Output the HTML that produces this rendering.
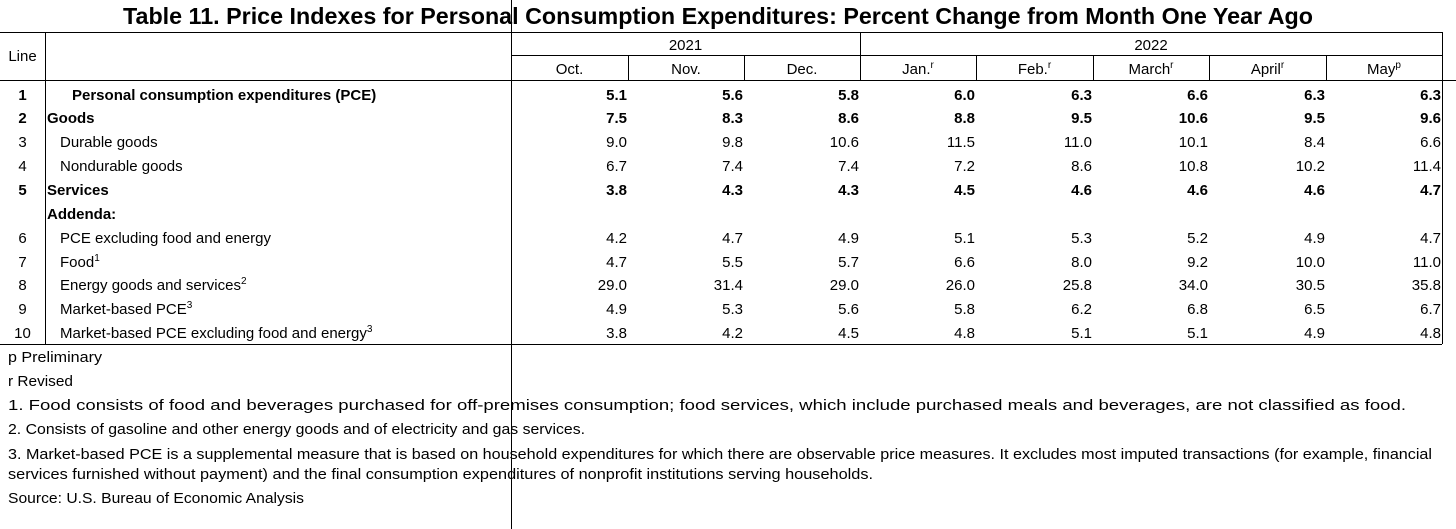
<!DOCTYPE html>
<html><head><meta charset="utf-8">
<style>
html,body{margin:0;padding:0;background:#fff;}
body{width:1456px;height:529px;position:relative;overflow:hidden;font-family:"Liberation Sans",Arial,sans-serif;color:#000;}
.t{position:absolute;white-space:nowrap;font-size:15px;line-height:16px;transform-origin:0 50%;}
.r{position:absolute;white-space:nowrap;font-size:15px;line-height:16px;text-align:right;}
.c{position:absolute;white-space:nowrap;font-size:15px;line-height:16px;text-align:center;}
.b{font-weight:bold;}
.hl{position:absolute;height:1px;background:#000;}
.vl{position:absolute;width:1px;background:#000;}
sup{font-size:10px;vertical-align:6px;line-height:0;}
</style></head>
<body>
<div id="title" class="t b" style="left:123px;top:5px;font-size:23px;line-height:23px;" data-fit="1190">Table 11. Price Indexes for Personal Consumption Expenditures: Percent Change from Month One Year Ago</div>
<div id="root"></div>
<script>
const months=['Oct.','Nov.','Dec.','Jan.','Feb.','March','April','May'];
const marks=['','','','r','r','r','r','p'];
const colEdges=[511,628,744,860,976,1093,1209,1326,1442];
const labels=['Personal consumption expenditures (PCE)','Goods','Durable goods','Nondurable goods','Services','Addenda:','PCE excluding food and energy','Food','Energy goods and services','Market-based PCE','Market-based PCE excluding food and energy'];
const lineNums=['1','2','3','4','5','','6','7','8','9','10'];
const sups=['','','','','','','','1','2','3','3'];
const bolds=[1,1,0,0,1,1,0,0,0,0,0];
const indents=[72,47,60,60,47,47,60,60,60,60,60];
const values=[
['5.1','5.6','5.8','6.0','6.3','6.6','6.3','6.3'],
['7.5','8.3','8.6','8.8','9.5','10.6','9.5','9.6'],
['9.0','9.8','10.6','11.5','11.0','10.1','8.4','6.6'],
['6.7','7.4','7.4','7.2','8.6','10.8','10.2','11.4'],
['3.8','4.3','4.3','4.5','4.6','4.6','4.6','4.7'],
[],
['4.2','4.7','4.9','5.1','5.3','5.2','4.9','4.7'],
['4.7','5.5','5.7','6.6','8.0','9.2','10.0','11.0'],
['29.0','31.4','29.0','26.0','25.8','34.0','30.5','35.8'],
['4.9','5.3','5.6','5.8','6.2','6.8','6.5','6.7'],
['3.8','4.2','4.5','4.8','5.1','5.1','4.9','4.8']];
const rowTops=[88,111,135,159,183,207,231,255,278,302,326];
const notes=[
['p Preliminary',350,94],
['r Revised',374,65],
['1. Food consists of food and beverages purchased for off-premises consumption; food services, which include purchased meals and beverages, are not classified as food.',398,1398],
['2. Consists of gasoline and other energy goods and of electricity and gas services.',422,577],
['3. Market-based PCE is a supplemental measure that is based on household expenditures for which there are observable price measures. It excludes most imputed transactions (for example, financial',447,1424],
['services furnished without payment) and the final consumption expenditures of nonprofit institutions serving households.',467,865],
['Source: U.S. Bureau of Economic Analysis',491,296]];
const root=document.getElementById('root');
function line(cls,l,t,w,h){const d=document.createElement('div');d.className=cls;d.style.left=l+'px';d.style.top=t+'px';d.style.width=w+'px';d.style.height=h+'px';


root.appendChild(d);}
line('hl',0,32,1442,1);line('hl',511,55,931,1);line('hl',0,80,1456,1);line('hl',0,344,1442,1);
line('vl',45,32,1,312);line('vl',511,0,1,529);line('vl',860,32,1,48);line('vl',1442,32,1,312);
for(let i=1;i<8;i++){if(i!==3)line('vl',colEdges[i],55,1,25);}
function txt(cls,html,l,t,w){const d=document.createElement('div');d.className=cls;d.innerHTML=html;d.style.left=l+'px';d.style.top=t+'px';if(w)d.style.width=w+'px';root.appendChild(d);return d;}
let e=txt('c','Line',0,49,45);


e=txt('c','2021',511,38,349);


e=txt('c','2022',860,38,582);


months.forEach((m,i)=>{const h=m+(marks[i]?'<sup>'+marks[i]+'</sup>':'');
const d=txt('c',h,colEdges[i],62,colEdges[i+1]-colEdges[i]);

});
labels.forEach((lab,r)=>{const top=rowTops[r];const bc=bolds[r]?' b':'';
const n=txt('c'+bc,lineNums[r],0,top,45);


const l=txt('t'+bc,lab+(sups[r]?'<sup>'+sups[r]+'</sup>':''),indents[r],top);


values[r].forEach((v,i)=>{const d=txt('r'+bc,v,colEdges[i],top,colEdges[i+1]-colEdges[i]-1);

});});
notes.forEach(nt=>{const d=txt('t',nt[0],8,nt[1]);d.dataset.fit=nt[2];

});
document.querySelectorAll('[data-fit]').forEach(d=>{const w=d.getBoundingClientRect().width;const tw=+d.dataset.fit;d.style.transform='scaleX('+(tw/w)+')';});
</script>
</body></html>
